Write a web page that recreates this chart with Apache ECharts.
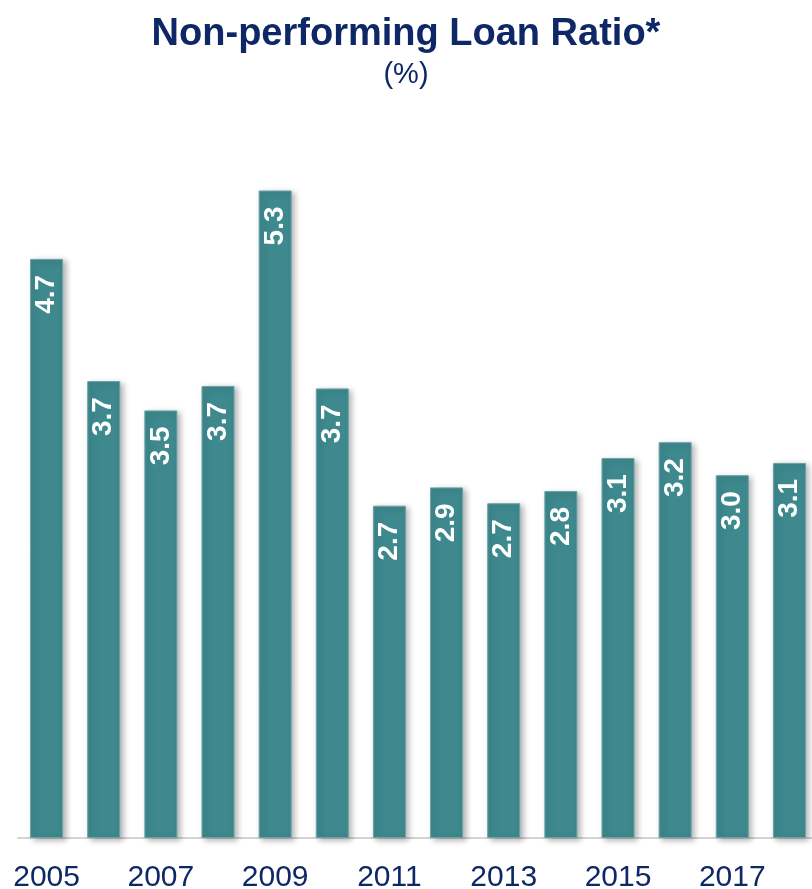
<!DOCTYPE html>
<html>
<head>
<meta charset="utf-8">
<title>Non-performing Loan Ratio</title>
<script src="https://cdn.jsdelivr.net/npm/echarts@6/dist/echarts.min.js"></script>
<style>
  html, body { margin: 0; padding: 0; background: #fff; }
  #nplChart { width: 812px; height: 889px; }
</style>
</head>
<body>
<div id="nplChart"></div>
<script>
// data
var years = ['2005', '2006', '2007', '2008', '2009', '2010', '2011',
             '2012', '2013', '2014', '2015', '2016', '2017', '2018'];
var nplRatio = [4.74, 3.74, 3.50, 3.70, 5.30, 3.68, 2.72,
                2.87, 2.74, 2.84, 3.11, 3.24, 2.97, 3.07];

var nplChart = echarts.init(document.getElementById('nplChart'));

var nplOption = {
    animation: false,
    title: {
        text: 'Non-performing Loan Ratio*',
        subtext: '(%)',
        left: 'center',
        top: 11,
        itemGap: 6,
        textStyle: {
            fontFamily: 'Liberation Sans',
            fontSize: 38,
            fontWeight: 'bold',
            color: '#0e2766'
        },
        subtextStyle: {
            fontFamily: 'Liberation Sans',
            fontSize: 29,
            color: '#0e2766'
        }
    },
    // last bar runs off the right edge like in the source picture
    grid: {
        left: 18,
        width: 800,
        top: 105,
        bottom: 51,
        outerBoundsMode: 'none'
    },
    xAxis: {
        type: 'category',
        data: years,
        axisTick: { show: false },
        axisLine: {
            lineStyle: { color: '#d4d4d4', width: 2 }
        },
        axisLabel: {
            interval: 1,
            margin: 25,
            fontFamily: 'Liberation Sans',
            fontSize: 30,
            color: '#0e2766'
        }
    },
    yAxis: {
        type: 'value',
        min: 0,
        max: 6,
        show: false,
        splitLine: { show: false }
    },
    series: [
        {
            type: 'bar',
            data: nplRatio,
            barWidth: 33,
            itemStyle: {
                color: '#3d898e',
                borderColor: '#6aa3a6',
                borderWidth: 1,
                shadowColor: 'rgba(0, 0, 0, 0.3)',
                shadowBlur: 6,
                shadowOffsetX: 3,
                shadowOffsetY: 2
            },
            label: {
                show: true,
                position: 'insideTop',
                rotate: 90,
                align: 'right',
                verticalAlign: 'middle',
                distance: 16,
                fontFamily: 'Liberation Sans',
                fontSize: 28,
                fontWeight: 'bold',
                color: '#ffffff',
                formatter: function (p) { return p.value.toFixed(1); }
            }
        }
    ]
};

nplChart.setOption(nplOption);
</script>
</body>
</html>
